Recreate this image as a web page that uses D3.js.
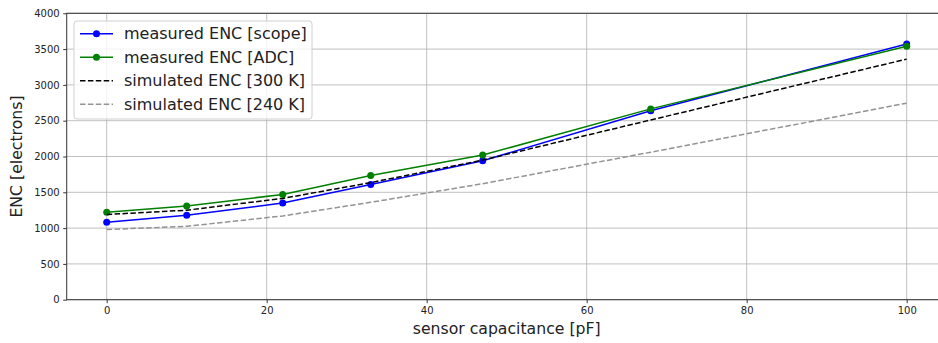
<!DOCTYPE html>
<html>
<head>
<meta charset="utf-8">
<script src="https://cdn.jsdelivr.net/npm/d3@7"></script>
<style>
  body { margin: 0; background: #fff; }
  svg { font-family: "DejaVu Sans", sans-serif; }
</style>
</head>
<body>
<svg width="938" height="343"></svg>
<script>
// sensor capacitance [pF]
var capacitance = [0, 10, 22, 33, 47, 68, 100];
var encScope = [1080, 1180, 1350, 1610, 1940, 2640, 3570];
var encAdc = [1220, 1310, 1470, 1735, 2020, 2665, 3540];
var sim300 = [1190, 1250, 1415, 1635, 1950, 2510, 3360];
var sim240 = [980, 1025, 1170, 1360, 1620, 2060, 2745];
var xTicks = [0, 20, 40, 60, 80, 100];
var yTicks = [0, 500, 1000, 1500, 2000, 2500, 3000, 3500, 4000];

var series = [
  { name: "measured ENC [scope]", values: encScope, color: "#0000ff", dash: null, marker: true },
  { name: "measured ENC [ADC]", values: encAdc, color: "#008000", dash: null, marker: true },
  { name: "simulated ENC [300 K]", values: sim300, color: "#000000", dash: "5.5,2.4", marker: false },
  { name: "simulated ENC [240 K]", values: sim240, color: "#939393", dash: "5.5,2.4", marker: false }
];

var svg = d3.select("svg");
var pLeft = 66.7, pRight = 946.7, pTop = 13.3, pBottom = 299.7;

var x = d3.scaleLinear().domain([-5, 105]).range([pLeft, pRight]);
var y = d3.scaleLinear().domain([0, 4000]).range([pBottom, pTop]);

// grid
svg.append("g")
  .selectAll("line")
  .data(xTicks)
  .enter().append("line")
  .attr("x1", function(d) { return x(d); })
  .attr("x2", function(d) { return x(d); })
  .attr("y1", pTop).attr("y2", pBottom)
  .attr("stroke", "#b0b0b0").attr("stroke-width", 0.8);

svg.append("g")
  .selectAll("line")
  .data(yTicks)
  .enter().append("line")
  .attr("x1", pLeft).attr("x2", pRight)
  .attr("y1", function(d) { return y(d); })
  .attr("y2", function(d) { return y(d); })
  .attr("stroke", "#b0b0b0").attr("stroke-width", 0.8);

// axes
var xAxis = svg.append("g")
  .attr("transform", "translate(0," + pBottom + ")")
  .call(d3.axisBottom(x).tickValues(xTicks).tickSize(3.5).tickPadding(3.5).tickFormat(d3.format("d")));
var yAxis = svg.append("g")
  .attr("transform", "translate(" + pLeft + ",0)")
  .call(d3.axisLeft(y).tickValues(yTicks).tickSize(3.5).tickPadding(3.5).tickFormat(d3.format("d")));

[xAxis, yAxis].forEach(function(a) {
  a.select(".domain").remove();
  a.selectAll("text").attr("font-size", 10).attr("fill", "#222").attr("font-family", "DejaVu Sans");
  a.selectAll("line").attr("stroke", "#333");
});

// spines
svg.append("rect")
  .attr("x", pLeft).attr("y", pTop)
  .attr("width", pRight - pLeft).attr("height", pBottom - pTop)
  .attr("fill", "none").attr("stroke", "#333").attr("stroke-width", 1);

// lines
var line = d3.line()
  .x(function(d, i) { return x(capacitance[i]); })
  .y(function(d) { return y(d); });

var plotted = svg.append("g");
series.forEach(function(s) {
  plotted.append("path")
    .datum(s.values)
    .attr("d", line)
    .attr("fill", "none")
    .attr("stroke", s.color)
    .attr("stroke-width", 1.5)
    .attr("stroke-dasharray", s.dash);
  if (!s.marker) return;
  plotted.selectAll(null)
    .data(s.values)
    .enter().append("circle")
    .attr("cx", function(d, i) { return x(capacitance[i]); })
    .attr("cy", function(d) { return y(d); })
    .attr("r", 3.5)
    .attr("fill", s.color);
});

// axis labels
svg.append("text")
  .attr("x", (pLeft + pRight) / 2).attr("y", 334)
  .attr("text-anchor", "middle")
  .attr("font-size", 15.7).attr("fill", "#222")
  .text("sensor capacitance [pF]");

svg.append("text")
  .attr("transform", "translate(22," + ((pTop + pBottom) / 2) + ") rotate(-90)")
  .attr("text-anchor", "middle")
  .attr("font-size", 15.7).attr("fill", "#222")
  .text("ENC [electrons]");

// legend
var legend = svg.append("g");
legend.append("rect")
  .attr("x", 74).attr("y", 21)
  .attr("width", 238).attr("height", 98)
  .attr("rx", 3)
  .attr("fill", "#fff").attr("fill-opacity", 0.8)
  .attr("stroke", "#d0d0d0");

var rows = legend.selectAll("g.item")
  .data(series)
  .enter().append("g")
  .attr("class", "item")
  .attr("transform", function(d, i) { return "translate(0," + (33.7 + i * 23.5) + ")"; });

rows.append("line")
  .attr("x1", 80).attr("x2", 113)
  .attr("stroke", function(d) { return d.color; })
  .attr("stroke-width", 1.5)
  .attr("stroke-dasharray", function(d) { return d.dash; });
rows.filter(function(d) { return d.marker; })
  .append("circle")
  .attr("cx", 96.5).attr("r", 3.5)
  .attr("fill", function(d) { return d.color; });
rows.append("text")
  .attr("x", 124).attr("dy", "0.35em")
  .attr("font-size", 16).attr("fill", "#222")
  .text(function(d) { return d.name; });
</script>
</body>
</html>
